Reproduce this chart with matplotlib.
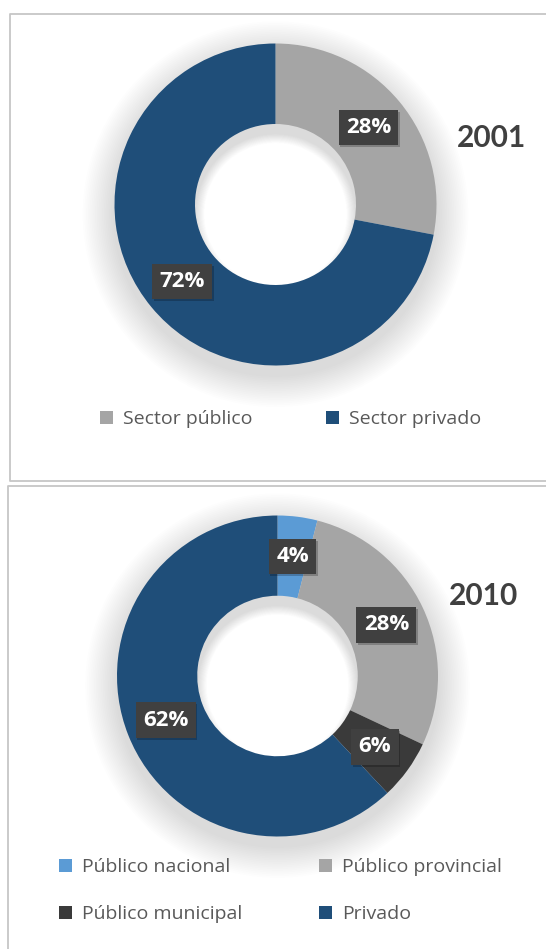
import matplotlib
matplotlib.use("Agg")
import matplotlib.pyplot as plt
from matplotlib.patches import Wedge, Rectangle
from matplotlib.lines import Line2D
from matplotlib.transforms import IdentityTransform

plt.rcParams['font.family'] = ['Open Sans', 'DejaVu Sans']

# ---- data ----
labels_2001 = ["Sector público", "Sector privado"]
values_2001 = [28, 72]
colors_2001 = ["#A5A5A5", "#1F4E79"]

labels_2010 = ["Público nacional", "Público provincial", "Público municipal", "Privado"]
values_2010 = [4, 28, 6, 62]
colors_2010 = ["#5B9BD5", "#A5A5A5", "#3A3A3A", "#1F4E79"]

W, H = 546, 949
fig = plt.figure(figsize=(W / 100, H / 100), dpi=100)
fig.patch.set_facecolor("white")


def fx(x):
    return x / W


def fy(y):
    return 1 - y / H


def frame_line(xs, ys):
    fig.add_artist(Line2D([fx(x) for x in xs], [fy(y) for y in ys],
                          color="#C6C6C6", lw=1.3, transform=fig.transFigure))


# panel frames
frame_line([W, 10, 10, W], [14, 14, 481, 481])
frame_line([W, 8, 8], [486, 486, H])

value_labels = []


def donut(cx, cy, r, values, colors, title, title_xy):
    ax = fig.add_axes([fx(cx - r), fy(cy + r), 2 * r / W, 2 * r / H])
    ax.axis("off")

    # soft drop shadow around the ring, falling slightly into the hole
    n = 18
    for k in range(n):
        d = 0.011 * (k + 1)
        ax.add_patch(Wedge((0, -0.06), 1.0 + d, 0, 360, width=0.5 + 1.3 * d,
                           facecolor="black", edgecolor="none", alpha=0.009,
                           clip_on=False, zorder=0))

    wedges, _, autotexts = ax.pie(
        values, colors=colors, startangle=90, counterclock=False,
        radius=1.0, wedgeprops=dict(width=0.5, edgecolor="none"),
        autopct=lambda p: f"{p:.0f}%", pctdistance=0.75,
        textprops=dict(color="white", fontsize=16, fontweight="bold"))
    for w in wedges:
        w.set_zorder(2)
    for t in autotexts:
        t.set_zorder(5)
        t.set_bbox(dict(boxstyle="square,pad=0.33", facecolor="#404040",
                        edgecolor="none"))
        value_labels.append((ax, t))
    ax.set_xlim(-1, 1)
    ax.set_ylim(-1, 1)
    ax.set_aspect("equal")

    fig.text(fx(title_xy[0]), fy(title_xy[1]), title, fontsize=21.5,
             fontweight="bold", color="#404040", ha="center", va="center",
             family=["Lato", "DejaVu Sans"])
    return wedges


w01 = donut(275.5, 204.5, 161, values_2001, colors_2001, "2001", (492, 138))
w10 = donut(277.5, 676, 160.5, values_2010, colors_2010, "2010", (484, 596))

legend_kw = dict(frameon=False, fontsize=14, labelcolor="#595959",
                 handlelength=0.66, handleheight=0.66, handletextpad=0.52,
                 borderaxespad=0, borderpad=0)

fig.legend(w01, labels_2001, loc="center left",
           bbox_to_anchor=(fx(100), fy(419)), ncol=2, columnspacing=3.8,
           **legend_kw)

# legend fills column by column, so order the entries to read row by row
order = [0, 2, 1, 3]
fig.legend([w10[i] for i in order], [labels_2010[i] for i in order],
           loc="upper left", bbox_to_anchor=(fx(59), fy(858)), ncol=2,
           columnspacing=3.95, labelspacing=1.5, **legend_kw)

# faint drop shadow under each value box, placed from the rendered box extents
fig.canvas.draw()
renderer = fig.canvas.get_renderer()
for ax, t in value_labels:
    bb = t.get_bbox_patch().get_window_extent(renderer)
    ax.add_patch(Rectangle((bb.x0 + 1.5, bb.y0 - 2.0), bb.width, bb.height,
                           transform=IdentityTransform(), facecolor="black",
                           edgecolor="none", alpha=0.22, clip_on=False,
                           zorder=4))

fig.savefig("out.png", dpi=100, facecolor="white")
